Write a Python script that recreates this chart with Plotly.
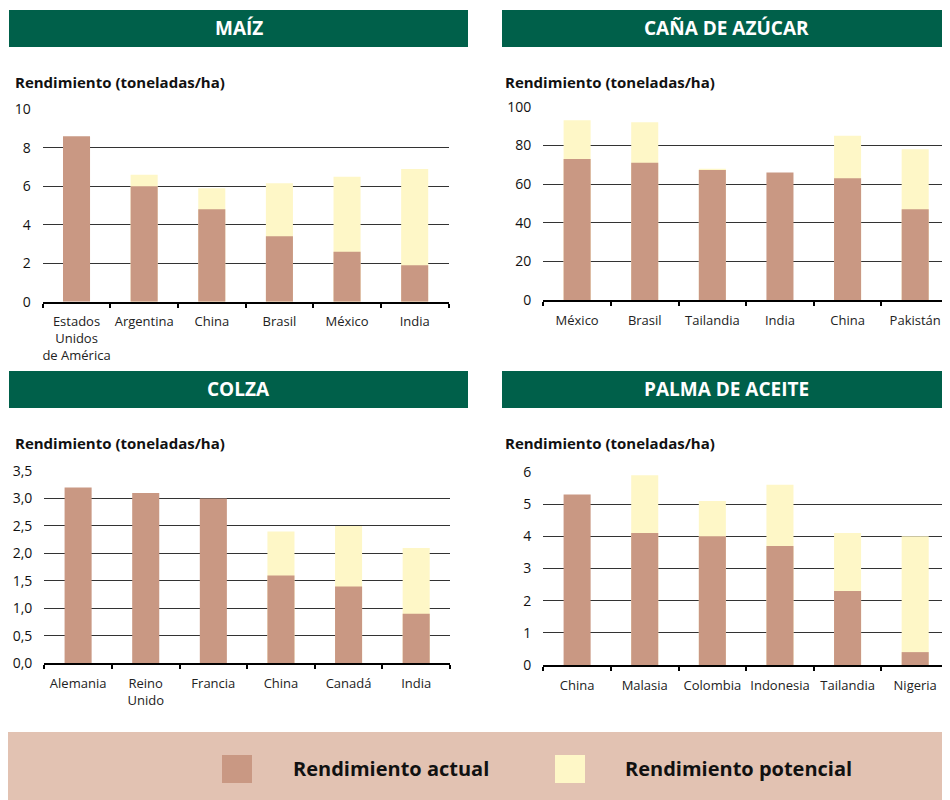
import plotly.graph_objects as go

# ---------------- data ----------------
maiz_paises = ["Estados<br>Unidos<br>de América", "Argentina", "China", "Brasil", "México", "India"]
maiz_actual = [8.6, 6.0, 4.8, 3.4, 2.6, 1.9]
maiz_potencial = [None, 6.6, 5.9, 6.15, 6.5, 6.9]

cana_paises = ["México", "Brasil", "Tailandia", "India", "China", "Pakistán"]
cana_actual = [73, 71, 67.3, 66, 63, 47]
cana_potencial = [93, 92, 67.9, None, 85, 78]

colza_paises = ["Alemania", "Reino<br>Unido", "Francia", "China", "Canadá", "India"]
colza_actual = [3.2, 3.1, 3.0, 1.6, 1.4, 0.9]
colza_potencial = [None, None, None, 2.4, 2.5, 2.1]

palma_paises = ["China", "Malasia", "Colombia", "Indonesia", "Tailandia", "Nigeria"]
palma_actual = [5.3, 4.1, 4.0, 3.7, 2.3, 0.4]
palma_potencial = [None, 5.9, 5.1, 5.6, 4.1, 4.0]

titulos = ["MAÍZ", "CAÑA DE AZÚCAR", "COLZA", "PALMA DE ACEITE"]
titulo_eje = "Rendimiento (toneladas/ha)"
leyenda = ["Rendimiento actual", "Rendimiento potencial"]

# ---------------- style ----------------
OFF = 8                 # page body margin of the browser
W, H = 950 - OFF, 800 - OFF
C_ACT = "#C99883"
C_POT = "#FEF7C7"
C_GREEN = "#00604A"
C_LEG_BG = "#E2C2B2"
FONT = "Open Sans"

def px(x):
    return (x - OFF) / W

def py(y):
    return 1 - (y - OFF) / H

panels = [
    dict(cats=maiz_paises, act=maiz_actual, pot=maiz_potencial,
         xd=(42.7, 448.5), yd=(301.7, 109.3), rng=(0, 10), dtick=2, fmt="d",
         box=(9, 468, 10, 47), ytitle=(13, 82)),
    dict(cats=cana_paises, act=cana_actual, pot=cana_potencial,
         xd=(543.3, 949), yd=(300.0, 106.7), rng=(0, 100), dtick=20, fmt="d",
         box=(502, 950, 10, 47), ytitle=(503, 82)),
    dict(cats=colza_paises, act=colza_actual, pot=colza_potencial,
         xd=(44.3, 450), yd=(663.3, 471.0), rng=(0, 3.5), dtick=0.5, fmt=".1f",
         box=(9, 468, 371, 408), ytitle=(13, 443)),
    dict(cats=palma_paises, act=palma_actual, pot=palma_potencial,
         xd=(543.3, 949), yd=(665.0, 472.0), rng=(0, 6), dtick=1, fmt="d",
         box=(502, 950, 371, 408), ytitle=(503, 443)),
]

fig = go.Figure()
shapes = []
annotations = []
layout_axes = {}

for i, p in enumerate(panels, start=1):
    xa = "x" if i == 1 else f"x{i}"
    ya = "y" if i == 1 else f"y{i}"
    fig.add_trace(go.Bar(x=p["cats"], y=p["pot"], xaxis=xa, yaxis=ya, width=0.4,
                         marker=dict(color=C_POT, line=dict(width=0)),
                         name=leyenda[1], showlegend=False))
    fig.add_trace(go.Bar(x=p["cats"], y=p["act"], xaxis=xa, yaxis=ya, width=0.4,
                         marker=dict(color=C_ACT, line=dict(width=0)),
                         name=leyenda[0], showlegend=False))
    kx = "xaxis" if i == 1 else f"xaxis{i}"
    ky = "yaxis" if i == 1 else f"yaxis{i}"
    layout_axes[kx] = dict(
        domain=[px(p["xd"][0]), px(p["xd"][1])], anchor=ya,
        type="category", showline=True, linecolor="#000", linewidth=2,
        ticks="outside", tickson="boundaries", ticklen=4, tickwidth=2, tickcolor="#000",
        tickangle=0, automargin=False, ticklabelstandoff=7,
        tickfont=dict(family=FONT, size=13, color="#222"), showgrid=False,
        fixedrange=True,
    )
    layout_axes[ky] = dict(
        domain=[py(p["yd"][0]), py(p["yd"][1])], anchor=xa,
        range=list(p["rng"]), dtick=p["dtick"], tick0=0, tickformat=p["fmt"],
        showgrid=True, gridcolor="#333", gridwidth=1, zeroline=False,
        showline=False, ticks="", ticklabelstandoff=11, automargin=False,
        tickfont=dict(family=FONT, size=14, color="#111"), fixedrange=True,
    )
    x0, x1, y0, y1 = p["box"]
    shapes.append(dict(type="rect", xref="paper", yref="paper",
                       x0=px(x0), x1=px(x1), y0=py(y1), y1=py(y0),
                       fillcolor=C_GREEN, line=dict(width=0), layer="below"))
    annotations.append(dict(text=titulos[i - 1], xref="paper", yref="paper",
                            x=px((x0 + x1) / 2), y=py((y0 + y1) / 2),
                            xanchor="center", yanchor="middle", showarrow=False,
                            font=dict(family=FONT, size=19, color="white", weight="bold")))
    tx, ty = p["ytitle"]
    annotations.append(dict(text=titulo_eje, xref="paper", yref="paper",
                            x=px(tx), y=py(ty), xanchor="left", yanchor="middle",
                            showarrow=False,
                            font=dict(family=FONT, size=15, color="#111", weight="bold")))

# legend band
shapes.append(dict(type="rect", xref="paper", yref="paper", x0=0, x1=1,
                   y0=0, y1=py(732), fillcolor=C_LEG_BG, line=dict(width=0),
                   layer="below"))
for (sx, tx, col, lab) in [(222, 291, C_ACT, leyenda[0]), (555, 623, C_POT, leyenda[1])]:
    shapes.append(dict(type="rect", xref="paper", yref="paper",
                       x0=px(sx), x1=px(sx + 30), y0=py(783), y1=py(755),
                       fillcolor=col, line=dict(width=0)))
    annotations.append(dict(text=lab, xref="paper", yref="paper", x=px(tx), y=py(768),
                            xanchor="left", yanchor="middle", showarrow=False,
                            font=dict(family=FONT, size=20, color="#111", weight="bold")))

fig.update_layout(
    width=W, height=H, margin=dict(l=0, r=0, t=0, b=0, pad=0), autosize=False,
    paper_bgcolor="white", plot_bgcolor="white",
    barmode="overlay", bargap=0.6, separators=",.",
    showlegend=False, shapes=shapes, annotations=annotations,
    font=dict(family=FONT),
    **layout_axes,
)

fig.write_html("out.html")
